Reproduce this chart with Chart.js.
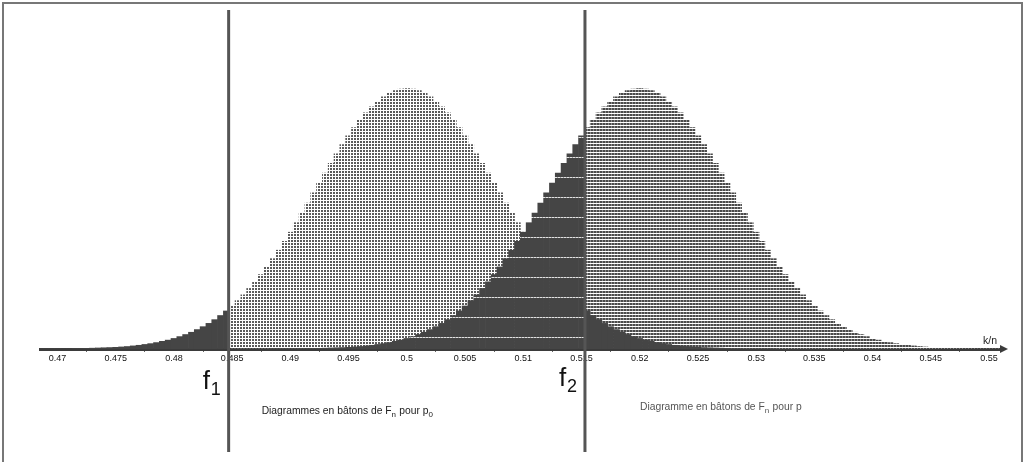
<!DOCTYPE html>
<html>
<head>
<meta charset="utf-8">
<script src="https://cdn.jsdelivr.net/npm/chart.js@4.4.1/dist/chart.umd.min.js"></script>
<style>
  html, body { margin: 0; padding: 0; background: #fff; }
  #wrap { width: 1026px; height: 462px; }
</style>
</head>
<body>
<div id="wrap"><canvas id="batons" width="1026" height="462"></canvas></div>
<script>
// hauteurs des bâtons P(F_n = k/n), en pour mille (un bâton tous les 0.0005)
const kStep = 0.0005
const p0Start = 0.4685
const pStart = 0.4885

const p0Values = [
  0.01, 0.01, 0.01, 0.01, 0.01, 0.01, 0.02, 0.02,
  0.03, 0.04, 0.05, 0.06, 0.07, 0.08, 0.10, 0.12,
  0.15, 0.18, 0.22, 0.26, 0.31, 0.37, 0.43, 0.51,
  0.60, 0.70, 0.81, 0.94, 1.08, 1.24, 1.42, 1.62,
  1.84, 2.08, 2.34, 2.62, 2.93, 3.25, 3.60, 3.97,
  4.37, 4.78, 5.21, 5.65, 6.11, 6.58, 7.06, 7.55,
  8.03, 8.51, 8.98, 9.44, 9.89, 10.31, 10.71, 11.08,
  11.42, 11.72, 11.98, 12.20, 12.37, 12.50, 12.57, 12.60,
  12.57, 12.50, 12.37, 12.20, 11.98, 11.72, 11.42, 11.08,
  10.71, 10.31, 9.89, 9.44, 8.98, 8.51, 8.03, 7.55,
  7.06, 6.58, 6.11, 5.65, 5.21, 4.78, 4.37, 3.97,
  3.60, 3.25, 2.93, 2.62, 2.34, 2.08, 1.84, 1.62,
  1.42, 1.24, 1.08, 0.94, 0.81, 0.70, 0.60, 0.51,
  0.43, 0.37, 0.31, 0.26, 0.22, 0.18, 0.15, 0.12,
  0.10, 0.08, 0.07, 0.06, 0.05, 0.04, 0.03, 0.02,
  0.02, 0.01, 0.01, 0.01, 0.01, 0.01, 0.01
]

const pValues = [
  0.01, 0.01, 0.01, 0.01, 0.01, 0.01, 0.02, 0.02,
  0.03, 0.04, 0.05, 0.06, 0.07, 0.08, 0.10, 0.12,
  0.15, 0.18, 0.22, 0.26, 0.31, 0.37, 0.43, 0.51,
  0.60, 0.70, 0.81, 0.94, 1.08, 1.24, 1.42, 1.62,
  1.84, 2.08, 2.34, 2.62, 2.93, 3.25, 3.60, 3.97,
  4.37, 4.78, 5.21, 5.65, 6.11, 6.58, 7.06, 7.55,
  8.03, 8.51, 8.98, 9.44, 9.89, 10.31, 10.71, 11.08,
  11.42, 11.72, 11.98, 12.20, 12.37, 12.50, 12.57, 12.60,
  12.57, 12.50, 12.37, 12.20, 11.98, 11.72, 11.42, 11.08,
  10.71, 10.31, 9.89, 9.44, 8.98, 8.51, 8.03, 7.55,
  7.06, 6.58, 6.11, 5.65, 5.21, 4.78, 4.37, 3.97,
  3.60, 3.25, 2.93, 2.62, 2.34, 2.08, 1.84, 1.62,
  1.42, 1.24, 1.08, 0.94, 0.81, 0.70, 0.60, 0.51,
  0.43, 0.37, 0.31, 0.26, 0.22, 0.18, 0.15, 0.12,
  0.10, 0.08, 0.07, 0.06, 0.05, 0.04, 0.03, 0.02,
  0.02, 0.01, 0.01, 0.01, 0.01, 0.01
]

const f1 = 0.4847
const f2 = 0.5153

const tickValues = [0.47, 0.475, 0.48, 0.485, 0.49, 0.495, 0.5, 0.505, 0.51, 0.515, 0.52, 0.525, 0.53, 0.535, 0.54, 0.545, 0.55]
const tickLabels = ['0.47', '0.475', '0.48', '0.485', '0.49', '0.495', '0.5', '0.505', '0.51', '0.515', '0.52', '0.525', '0.53', '0.535', '0.54', '0.545', '0.55']

const xMin = 0.4685
const xMax = 0.5512

Chart.defaults.font.family = "'Liberation Sans', Arial, sans-serif"

function toPoints(start, values) {
  return values.map((v, i) => ({ x: +(start + i * kStep).toFixed(4), y: v }))
}

// petites trames pour remplir les bâtons
function makePattern(w, h, draw) {
  const c = document.createElement('canvas')
  c.width = w
  c.height = h
  draw(c.getContext('2d'))
  return c.getContext('2d').createPattern(c, 'repeat')
}

const dotsP0 = makePattern(3, 3, g => {
  g.fillStyle = '#5a5a5a'
  g.fillRect(0, 0, 2, 2)
})
const dashesP = makePattern(3, 3, g => {
  g.fillStyle = '#4a4a4a'
  g.fillRect(0, 0, 3, 2)
  g.fillStyle = '#8c8c8c'
  g.fillRect(2, 0, 1, 2)
})
// gris foncé rayé de fines lignes claires (zone gauche de p)
const stripedDark = makePattern(3, 20, g => {
  g.fillStyle = '#454545'
  g.fillRect(0, 0, 3, 20)
  g.fillStyle = '#e2e2e2'
  g.fillRect(0, 17, 2, 1)
  g.fillStyle = '#9a9a9a'
  g.fillRect(2, 17, 1, 1)
})
const dark = '#454545'

const p0Points = toPoints(p0Start, p0Values)
const pPoints = toPoints(pStart, pValues)

const p0Tails = p0Points.filter(pt => pt.x < f1 || pt.x > f2)
const p0Middle = p0Points.filter(pt => pt.x > f1 && pt.x < f2)
const pLeft = pPoints.filter(pt => pt.x < f2)
const pRight = pPoints.filter(pt => pt.x > f2)

const extras = {
  id: 'extras',
  afterDraw(chart) {
    const ctx = chart.ctx
    const xs = chart.scales.x
    const area = chart.chartArea
    const px1 = xs.getPixelForValue(f1)
    const px2 = xs.getPixelForValue(f2)
    ctx.save()

    // cadre
    ctx.strokeStyle = '#777'
    ctx.lineWidth = 2
    ctx.strokeRect(3, 3, 1019, 490)

    // droites verticales f1 et f2
    ctx.strokeStyle = '#555'
    ctx.lineWidth = 3
    ;[px1, px2].forEach(px => {
      ctx.beginPath()
      ctx.moveTo(px, 10)
      ctx.lineTo(px, 452)
      ctx.stroke()
    })

    // flèche de l'axe
    ctx.fillStyle = '#3b3b3b'
    ctx.beginPath()
    ctx.moveTo(area.right - 3, area.bottom - 4)
    ctx.lineTo(area.right + 5, area.bottom)
    ctx.lineTo(area.right - 3, area.bottom + 4)
    ctx.closePath()
    ctx.fill()

    ctx.fillStyle = '#222'
    ctx.textBaseline = 'alphabetic'
    ctx.font = "10.5px 'Liberation Sans', Arial, sans-serif"
    ctx.textAlign = 'right'
    ctx.fillText('k/n', area.right - 6, area.bottom - 5)
    ctx.textAlign = 'left'

    // f1, f2
    function fLabel(px, sub, y) {
      ctx.fillStyle = '#111'
      ctx.font = "26px 'Liberation Sans', Arial, sans-serif"
      ctx.fillText('f', px - 26, y)
      ctx.font = "18px 'Liberation Sans', Arial, sans-serif"
      ctx.fillText(sub, px - 18, y + 6)
    }
    fLabel(px1, '1', 389)
    fLabel(px2, '2', 386)

    // légendes
    function caption(x, y, color, parts) {
      ctx.fillStyle = color
      let cx = x
      parts.forEach(([txt, isSub]) => {
        ctx.font = isSub ? "8px 'Liberation Sans', Arial, sans-serif" : "10.3px 'Liberation Sans', Arial, sans-serif"
        ctx.fillText(txt, cx, isSub ? y + 3 : y)
        cx += ctx.measureText(txt).width + (isSub ? 0.5 : 0)
      })
    }
    caption(px1 + 33, 414, '#222', [['Diagrammes en bâtons de F', false], ['n', true], [' pour p', false], ['0', true]])
    caption(px2 + 55, 410, '#555', [['Diagramme en bâtons de F', false], ['n', true], [' pour p', false]])

    ctx.restore()
  }
}

const chart = new Chart(document.getElementById('batons'), {
  type: 'bar',
  data: {
    datasets: [
      { label: 'p0 queues', data: p0Tails, backgroundColor: dark },
      { label: 'p gauche', data: pLeft, backgroundColor: stripedDark },
      { label: 'p droite', data: pRight, backgroundColor: dashesP },
      { label: 'p0 milieu', data: p0Middle, backgroundColor: dotsP0 }
    ]
  },
  options: {
    responsive: false,
    animation: false,
    events: [],
    devicePixelRatio: 1,
    layout: { padding: { left: 40, right: 23, top: 10, bottom: 0 } },
    datasets: {
      bar: { grouped: false, barPercentage: 1, categoryPercentage: 1, borderWidth: 0 }
    },
    plugins: {
      legend: { display: false },
      tooltip: { enabled: false }
    },
    scales: {
      x: {
        type: 'linear',
        min: xMin,
        max: xMax,
        offset: false,
        border: { display: true, color: '#3b3b3b', width: 3 },
        grid: { display: true, drawOnChartArea: false, drawTicks: true, tickLength: 3, color: '#666' },
        ticks: {
          autoSkip: false,
          maxRotation: 0,
          padding: 1,
          color: '#111',
          font: { size: 9 },
          callback: (v, i) => tickLabels[i]
        },
        afterBuildTicks: s => { s.ticks = tickValues.map(v => ({ value: v })) },
        afterFit: s => { s.height = 113 }
      },
      y: { display: false, min: 0, max: 16.4 }
    }
  },
  plugins: [extras]
})
</script>
</body>
</html>
